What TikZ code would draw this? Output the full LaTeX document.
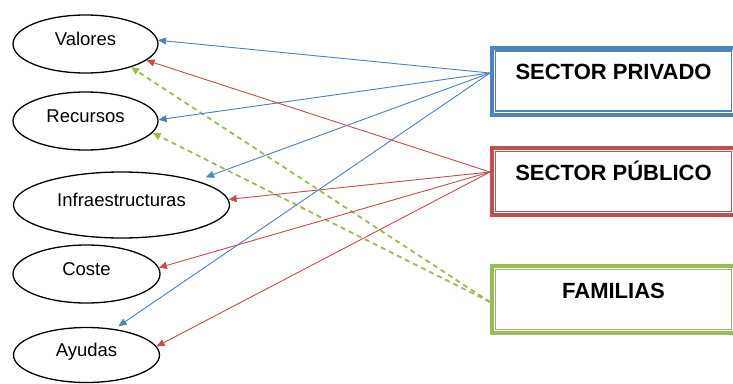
\documentclass[tikz,border=0pt]{standalone}
\usepackage{fontspec}
\setmainfont{Liberation Sans}
\usetikzlibrary{shapes.geometric,arrows.meta}
\definecolor{cblue}{HTML}{4F81BD}
\definecolor{cred}{HTML}{C0504D}
\definecolor{cgreen}{HTML}{9BBB59}
\begin{document}
\begin{tikzpicture}[x=1pt,y=-1pt,
  ell/.style={ellipse,draw=black,line width=1.3pt,inner sep=0pt,
    font=\fontsize{18.5}{20}\selectfont,text height=13pt,text depth=10pt},
  sbox/.style={rectangle,draw=#1,line width=4pt,minimum width=243pt,
    minimum height=67pt,inner sep=0pt,
    font=\bfseries\fontsize{22}{24}\selectfont,text height=16pt,text depth=19pt},
  innerline/.style={draw=#1,line width=1.4pt},
  arr/.style={-{Triangle[length=8pt,width=7pt]},line width=0.9pt,draw=#1},
  darr/.style={-{Triangle[length=8pt,width=7pt]},line width=1.8pt,draw=#1,
    dash pattern=on 5pt off 4pt}
]
\useasboundingbox (0,0) rectangle (733,383);
\fill[white] (0,0) rectangle (733,383);

% ellipses
\node[ell,minimum width=145pt,minimum height=58pt] (val) at (85.5,44) {Valores};
\node[ell,minimum width=145pt,minimum height=58pt] (rec) at (85.5,121) {Recursos};
\node[ell,minimum width=216pt,minimum height=66pt] (inf) at (121.5,205) {Infraestructuras};
\node[ell,minimum width=147pt,minimum height=58pt] (cos) at (86.5,274) {Coste};
\node[ell,minimum width=146pt,minimum height=55pt] (ayu) at (86.5,355) {Ayudas};

% boxes
\node[sbox=cblue] (priv) at (613.5,81) {SECTOR PRIVADO};
\draw[innerline=cblue] ([xshift=5.5pt,yshift=-5.5pt]priv.north west) rectangle ([xshift=-5.5pt,yshift=5.5pt]priv.south east);
\node[sbox=cred] (pub) at (613.5,181.5) {SECTOR PÚBLICO};
\draw[innerline=cred] ([xshift=5.5pt,yshift=-5.5pt]pub.north west) rectangle ([xshift=-5.5pt,yshift=5.5pt]pub.south east);
\node[sbox=cgreen] (fam) at (613.5,299.5) {FAMILIAS};
\draw[innerline=cgreen] ([xshift=5.5pt,yshift=-5.5pt]fam.north west) rectangle ([xshift=-5.5pt,yshift=5.5pt]fam.south east);

% green dashed
\draw[darr=cgreen] ([yshift=-2.5pt]fam.west) -- (val.-27);
\draw[darr=cgreen] ([yshift=-2.5pt]fam.west) -- (rec.-10);

% red
\draw[arr=cred] ([yshift=9.5pt]pub.west) -- (val.-15);
\draw[arr=cred] ([yshift=9.5pt]pub.west) -- (inf.3);
\draw[arr=cred] ([yshift=9.5pt]pub.west) -- (cos.5);
\draw[arr=cred] ([yshift=9.5pt]pub.west) -- (ayu.7);

% blue
\draw[arr=cblue] ([yshift=8pt]priv.west) -- (val.3);
\draw[arr=cblue] ([yshift=8pt]priv.west) -- (rec.1);
\draw[arr=cblue,shorten >=10pt] ([yshift=8pt]priv.west) -- (inf.18);
\draw[arr=cblue,shorten >=5pt] ([yshift=8pt]priv.west) -- (ayu.43);
\end{tikzpicture}
\end{document}
